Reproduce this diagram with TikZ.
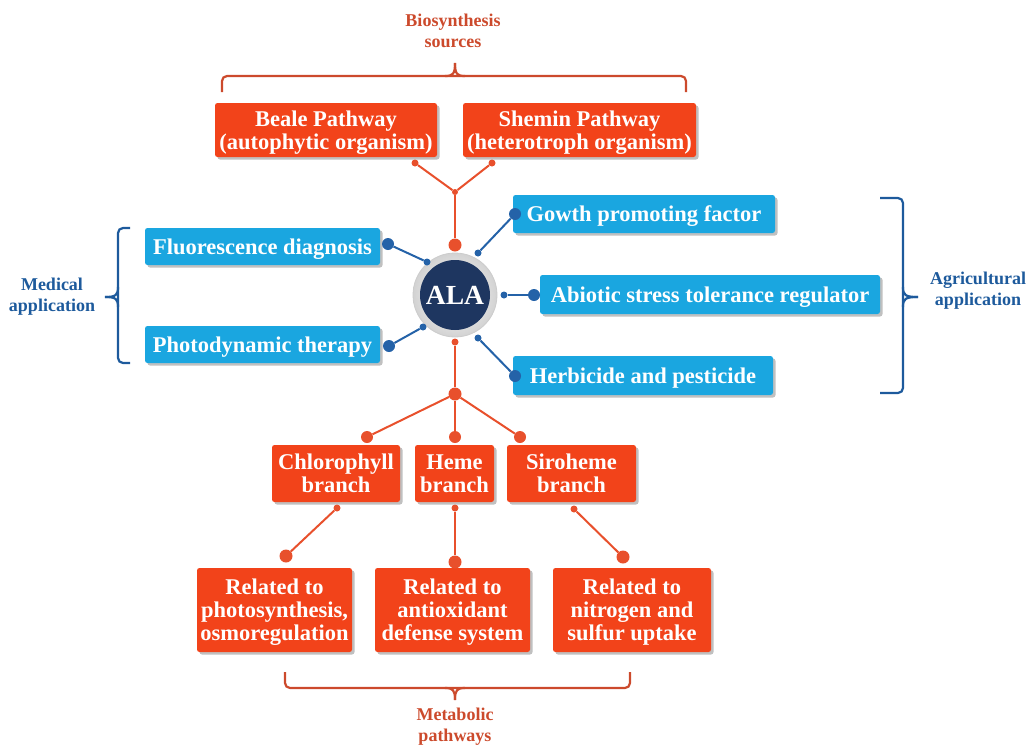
\documentclass[tikz,border=0pt]{standalone}
\usepackage{fontspec}
\setmainfont{Liberation Serif}
\usetikzlibrary{shadows}
\definecolor{boxred}{HTML}{F2431A}
\definecolor{boxblue}{HTML}{1AA6E0}
\definecolor{linered}{HTML}{E8502C}
\definecolor{lineblue}{HTML}{2462A8}
\definecolor{labred}{HTML}{CC4A2C}
\definecolor{labblue}{HTML}{1D5A9C}
\definecolor{alanavy}{HTML}{1E3660}
\begin{document}
\begin{tikzpicture}[x=1pt,y=-1pt,
  redbox/.style={fill=boxred, rounded corners=2.5pt, text=white,
    font=\bfseries\fontsize{22.5}{23}\selectfont, align=center, inner sep=0pt, text depth=0pt,
    drop shadow={shadow xshift=2.5pt,shadow yshift=-2.5pt,fill=black!45,opacity=.55}},
  bluebox/.style={redbox, fill=boxblue},
  rdotL/.style={circle, fill=linered, minimum size=13pt, inner sep=0pt},
  rdotS/.style={circle, fill=linered, minimum size=7pt, inner sep=0pt},
  bdotL/.style={circle, fill=lineblue, minimum size=12pt, inner sep=0pt},
  bdotS/.style={circle, fill=lineblue, minimum size=7pt, inner sep=0pt},
  rline/.style={draw=linered, line width=2pt},
  bline/.style={draw=lineblue, line width=2pt},
  rbrace/.style={draw=labred, line width=2.2pt, rounded corners=5pt},
  bbrace/.style={draw=labblue, line width=2.2pt, rounded corners=5pt},
  lab/.style={font=\bfseries\fontsize{18}{21}\selectfont, align=center, inner sep=0pt}
]
\useasboundingbox (0,0) rectangle (1029,747);

% labels
\node[lab, text=labred] (lbio) at (453,31) {Biosynthesis\\sources};
\node[lab, text=labred] (lmet) at (455,727) {Metabolic\\pathways};
\node[lab, text=labblue] (lmed) at (52,297) {Medical\\application};
\node[lab, text=labblue] (lagr) at (978,291) {Agricultural\\application};

% braces
\draw[rbrace] (222,92) -- (222,76) -- (686,76) -- (686,92);
\draw[draw=labred, line width=2.2pt] (445,76) .. controls (453,76) and (455,74) .. (455,63);
\draw[draw=labred, line width=2.2pt] (465,76) .. controls (457,76) and (455,74) .. (455,63);

\draw[rbrace] (285,672) -- (285,688) -- (630,688) -- (630,672);
\draw[draw=labred, line width=2.2pt] (445,688) .. controls (453,688) and (455,690) .. (455,700);
\draw[draw=labred, line width=2.2pt] (465,688) .. controls (457,688) and (455,690) .. (455,700);

\draw[bbrace] (130,228) -- (118,228) -- (118,363) -- (130,363);
\draw[draw=labblue, line width=2.2pt] (118,287) .. controls (118,295) and (116,297) .. (105,297);
\draw[draw=labblue, line width=2.2pt] (118,307) .. controls (118,299) and (116,297) .. (105,297);

\draw[bbrace] (880,198) -- (903,198) -- (903,393) -- (880,393);
\draw[draw=labblue, line width=2.2pt] (903,287) .. controls (903,295) and (905,297) .. (918,297);
\draw[draw=labblue, line width=2.2pt] (903,307) .. controls (903,299) and (905,297) .. (918,297);

% boxes
\node[redbox, minimum width=222pt, minimum height=54pt] (beale) at (326,130) {Beale Pathway\\(autophytic organism)};
\node[redbox, minimum width=233pt, minimum height=54pt] (shemin) at (579.5,130) {Shemin Pathway\\(heterotroph organism)};

\node[bluebox, minimum width=235pt, minimum height=37pt] (fluo) at (262.5,246.5) {Fluorescence diagnosis};
\node[bluebox, minimum width=235pt, minimum height=37pt] (photo) at (262.5,344.5) {Photodynamic therapy};
\node[bluebox, minimum width=262pt, minimum height=38pt] (growth) at (644,214) {Gowth promoting factor};
\node[bluebox, minimum width=340pt, minimum height=39pt] (abiotic) at (710,294.5) {Abiotic stress tolerance regulator};
\node[bluebox, minimum width=260pt, minimum height=39pt] (herb) at (643,375.5) {Herbicide and pesticide};

\node[redbox, minimum width=128pt, minimum height=57pt] (chl) at (336,473.5) {Chlorophyll\\branch};
\node[redbox, minimum width=79pt, minimum height=57pt] (heme) at (454.5,473.5) {Heme\\branch};
\node[redbox, minimum width=129pt, minimum height=57pt] (siro) at (571.5,473.5) {Siroheme\\branch};

\node[redbox, minimum width=155pt, minimum height=84pt] (rel1) at (274.5,610) {Related to\\photosynthesis,\\osmoregulation};
\node[redbox, minimum width=155pt, minimum height=84pt] (rel2) at (452.5,610) {Related to\\antioxidant\\defense system};
\node[redbox, minimum width=158pt, minimum height=84pt] (rel3) at (632,610) {Related to\\nitrogen and\\sulfur uptake};

% ALA
\node[circle, minimum size=84pt, inner sep=0pt, inner color=white, outer color=gray!35, draw=gray!40, line width=0.8pt] (ring) at (455,295) {};
\node[circle, minimum size=70pt, inner sep=0pt, fill=alanavy, text=white, font=\bfseries\fontsize{27.6}{30}\selectfont] (ala) at (455,295) {ALA};

% red dots (top)
\node[rdotS] (dbeale) at (415,163) {};
\node[rdotS] (dshemin) at (492,163) {};
\node[rdotS, minimum size=6pt] (jtop) at (455,192) {};
\node[rdotL] (dalatop) at (455,245) {};
% red dots (bottom)
\node[rdotS] (dalabot) at (455,342) {};
\node[rdotL] (jbot) at (455,394) {};
\node[rdotL, minimum size=12pt] (dchl) at (367,437) {};
\node[rdotL, minimum size=12pt] (dheme) at (455,437) {};
\node[rdotL, minimum size=12pt] (dsiro) at (520,437) {};
\node[rdotS] (dchlb) at (337,508) {};
\node[rdotS] (dhemeb) at (455,508) {};
\node[rdotS] (dsirob) at (574,509) {};
\node[rdotL] (drel1) at (286,556) {};
\node[rdotL] (drel2) at (455,562) {};
\node[rdotL] (drel3) at (623,557) {};

% blue dots
\node[bdotL] (dfluo) at (388,244) {};
\node[bdotS] (dfluoa) at (427,262) {};
\node[bdotL] (dphoto) at (389,346) {};
\node[bdotS] (dphotoa) at (423,327) {};
\node[bdotL] (dgrowth) at (515,214) {};
\node[bdotS] (dgrowtha) at (478,253) {};
\node[bdotS] (dabioa) at (504,295) {};
\node[bdotL] (dabio) at (534,295) {};
\node[bdotS] (dherba) at (478,338) {};
\node[bdotL] (dherb) at (515,376) {};

% red connectors
\draw[rline] (dbeale) -- (jtop);
\draw[rline] (dshemin) -- (jtop);
\draw[rline] (jtop) -- (dalatop);
\draw[rline] (dalabot) -- (jbot);
\draw[rline] (jbot) -- (dchl);
\draw[rline] (jbot) -- (dheme);
\draw[rline] (jbot) -- (dsiro);
\draw[rline] (dchlb) -- (drel1);
\draw[rline] (dhemeb) -- (drel2);
\draw[rline] (dsirob) -- (drel3);

% blue connectors
\draw[bline] (dfluo) -- (dfluoa);
\draw[bline] (dphoto) -- (dphotoa);
\draw[bline] (dgrowth) -- (dgrowtha);
\draw[bline] (dabioa) -- (dabio);
\draw[bline] (dherba) -- (dherb);
\end{tikzpicture}
\end{document}
